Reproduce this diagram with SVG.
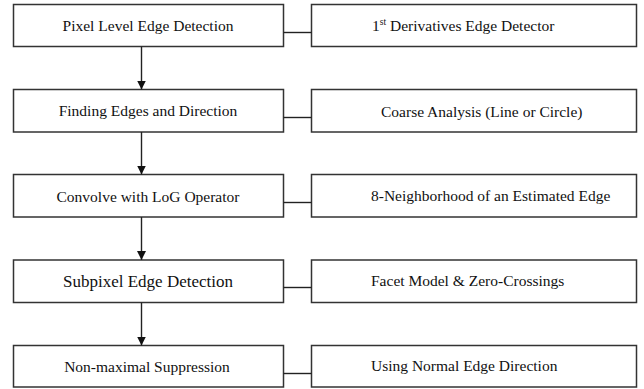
<svg xmlns="http://www.w3.org/2000/svg" width="644" height="389" viewBox="0 0 644 389">
<defs>
<style>
.box{fill:#fff;stroke:#333;stroke-width:1.5}
.lt{font-family:"Liberation Serif","Times New Roman",serif;font-size:15.5px;fill:#111;text-anchor:middle}
.rt{font-family:"Liberation Serif","Times New Roman",serif;font-size:15.5px;fill:#111}
.ln{stroke:#222;stroke-width:1.4;fill:none}
</style>
<marker id="ah" viewBox="0 0 10 10" refX="10" refY="5" markerWidth="9" markerHeight="9" markerUnits="userSpaceOnUse" orient="auto">
<path d="M0,0 L10,5 L0,10 z" fill="#111"/>
</marker>
</defs>
<rect width="644" height="389" fill="#fff"/>
<g id="n1"><rect class="box" x="13.5" y="4.5" width="270" height="42"/><text class="lt" x="148" y="30.5">Pixel Level Edge Detection</text></g>
<g id="n2"><rect class="box" x="13.5" y="89.5" width="270" height="42.5"/><text class="lt" x="148" y="116">Finding Edges and Direction</text></g>
<g id="n3"><rect class="box" x="13.5" y="174.5" width="270" height="42.5"/><text class="lt" x="148" y="201.5">Convolve with LoG Operator</text></g>
<g id="n4"><rect class="box" x="13.5" y="260" width="270" height="42.5"/><text class="lt" x="148" y="287" style="font-size:17px">Subpixel Edge Detection</text></g>
<g id="n5"><rect class="box" x="13.5" y="345.5" width="270" height="41.5"/><text class="lt" x="147" y="371.5">Non-maximal Suppression</text></g>
<g id="r1"><rect class="box" x="311.5" y="4.5" width="325" height="42"/><text class="rt" x="372" y="30.5">1<tspan style="font-size:9.5px" dy="-6">st</tspan><tspan dy="6"> Derivatives Edge Detector</tspan></text></g>
<g id="r2"><rect class="box" x="311.5" y="89.5" width="325" height="42.5"/><text class="rt" x="381" y="116.5">Coarse Analysis (Line or Circle)</text></g>
<g id="r3"><rect class="box" x="311.5" y="174.5" width="325" height="42.5"/><text class="rt" x="371" y="200.5">8-Neighborhood of an Estimated Edge</text></g>
<g id="r4"><rect class="box" x="311.5" y="260" width="325" height="42.5"/><text class="rt" x="371" y="286">Facet Model &amp; Zero-Crossings</text></g>
<g id="r5"><rect class="box" x="311.5" y="345.5" width="325" height="41.5"/><text class="rt" x="371" y="371">Using Normal Edge Direction</text></g>
<g id="connectors">
<line class="ln" x1="141.5" y1="46.5" x2="141.5" y2="89.5" marker-end="url(#ah)"/>
<line class="ln" x1="141.5" y1="132" x2="141.5" y2="174.5" marker-end="url(#ah)"/>
<line class="ln" x1="141.5" y1="217" x2="141.5" y2="260" marker-end="url(#ah)"/>
<line class="ln" x1="141.5" y1="302.5" x2="141.5" y2="345.5" marker-end="url(#ah)"/>
<line class="ln" x1="283.5" y1="32.5" x2="311.5" y2="32.5"/>
<line class="ln" x1="283.5" y1="117.5" x2="311.5" y2="117.5"/>
<line class="ln" x1="283.5" y1="202.5" x2="311.5" y2="202.5"/>
<line class="ln" x1="283.5" y1="287.5" x2="311.5" y2="287.5"/>
<line class="ln" x1="283.5" y1="373.5" x2="311.5" y2="373.5"/>
</g>
</svg>
